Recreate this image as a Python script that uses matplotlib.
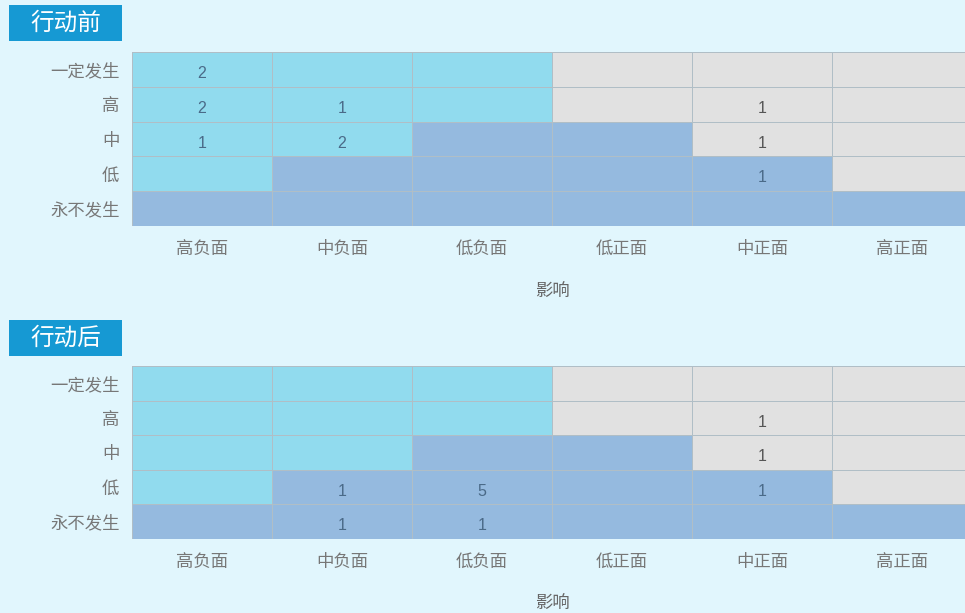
import matplotlib.pyplot as plt
from matplotlib.colors import ListedColormap
from matplotlib.patches import Rectangle
import numpy as np

plt.rcParams['font.family'] = ['Noto Sans CJK SC', 'DejaVu Sans']

impact = ["高负面", "中负面", "低负面", "低正面", "中正面", "高正面"]
likelihood = ["一定发生", "高", "中", "低", "永不发生"]

# risk zone of each cell: 0 = blue, 1 = cyan, 2 = gray
zones = [
    [1, 1, 1, 2, 2, 2],
    [1, 1, 1, 2, 2, 2],
    [1, 1, 0, 0, 2, 2],
    [1, 0, 0, 0, 0, 2],
    [0, 0, 0, 0, 0, 0],
]

before = [
    [2, 0, 0, 0, 0, 0],
    [2, 1, 0, 0, 1, 0],
    [1, 2, 0, 0, 1, 0],
    [0, 0, 0, 0, 1, 0],
    [0, 0, 0, 0, 0, 0],
]
after = [
    [0, 0, 0, 0, 0, 0],
    [0, 0, 0, 0, 1, 0],
    [0, 0, 0, 0, 1, 0],
    [0, 1, 5, 0, 1, 0],
    [0, 1, 1, 0, 0, 0],
]

bg = "#E1F6FD"
cmap = ListedColormap(["#95BADF", "#91DBEE", "#E1E1E1"])

fig = plt.figure(figsize=(9.65, 6.13), dpi=100, facecolor=bg)


def draw(ax, counts, title, title_y, lpad):
    z = np.array(zones)
    ax.pcolormesh(z, cmap=cmap, vmin=-0.5, vmax=2.5, edgecolors="#b0bec6", linewidth=0.5)
    ax.set_xlim(0, len(impact))
    ax.set_ylim(len(likelihood), 0)
    for i in range(len(likelihood)):
        for j in range(len(impact)):
            if counts[i][j]:
                col = "#555555" if zones[i][j] == 2 else "#4a6a88"
                ax.text(j + 0.5, i + 0.62, str(counts[i][j]), ha="center", va="center",
                        fontsize=11.5, color=col, family="Liberation Sans")
    ax.set_xticks(np.arange(len(impact)) + 0.5)
    ax.set_xticklabels(impact, fontsize=12.5, color="#777777")
    ax.set_yticks(np.arange(len(likelihood)) + 0.5)
    ax.set_yticklabels(likelihood, fontsize=12.5, color="#777777")
    ax.tick_params(length=0, pad=10)
    ax.tick_params(axis="y", pad=9)
    for s in ax.spines.values():
        s.set_visible(False)
    ax.set_xlabel("影响", fontsize=12.5, color="#666666", labelpad=lpad)
    fig.patches.append(Rectangle((9 / 965, 1 - (title_y + 36) / 613), 113 / 965, 36 / 613,
                                 transform=fig.transFigure, facecolor="#1699D3", edgecolor="none"))
    fig.text(66 / 965, 1 - (title_y + 18) / 613, title, ha="center", va="center",
             fontsize=17, color="white")


ax1 = fig.add_axes([132 / 965, 1 - 226 / 613, 840 / 965, 174 / 613])
draw(ax1, before, "行动前", 5, 18)
ax2 = fig.add_axes([132 / 965, 1 - 539 / 613, 840 / 965, 173 / 613])
draw(ax2, after, "行动后", 320, 17)

fig.savefig("out.png", dpi=100, facecolor=bg)
